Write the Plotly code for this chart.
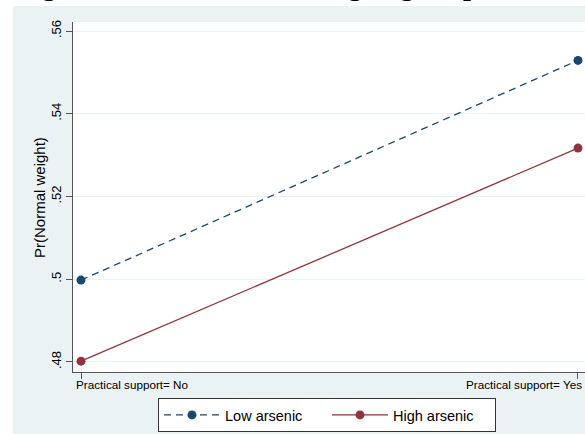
import plotly.graph_objects as go

categories = ["Practical support= No", "Practical support= Yes"]
x_pos = [0, 1]
low_arsenic = [0.4998, 0.5529]
high_arsenic = [0.4802, 0.5317]
y_ticks = [0.48, 0.50, 0.52, 0.54, 0.56]
y_ticklabels = [".48", ".5", ".52", ".54", ".56"]
series_names = ["Low arsenic", "High arsenic"]
y_title = "Pr(Normal weight)"
title_fragments = [("g", 49), ("g", 355), ("g", 407), ("p", 471)]

NAVY = "#1a476f"
MAROON = "#90353b"
BG = "#eaf2f3"
AX = "#555555"

W, H = 585, 434
L, R, T, B = 73, 0, 22, 62
PW, PH = W - L - R, H - T - B

fig = go.Figure()
fig.add_trace(go.Scatter(
    x=x_pos, y=low_arsenic, name=series_names[0], mode="lines+markers",
    line=dict(color=NAVY, width=1.3, dash="7px,5px"),
    marker=dict(color=NAVY, size=9),
))
fig.add_trace(go.Scatter(
    x=x_pos, y=high_arsenic, name=series_names[1], mode="lines+markers",
    line=dict(color=MAROON, width=1.3),
    marker=dict(color=MAROON, size=9),
))

def px_x(p):
    return (p - L) / PW

def px_y(p):
    return (H - B - p) / PH

shapes = [
    dict(type="rect", xref="paper", yref="paper", x0=px_x(-5), x1=px_x(13), y0=px_y(440), y1=px_y(-5),
         fillcolor="white", line=dict(width=0), layer="below"),
    dict(type="rect", xref="paper", yref="paper", x0=px_x(-5), x1=px_x(600), y0=px_y(6), y1=px_y(-5),
         fillcolor="white", line=dict(width=0), layer="below"),
]

annotations = [
    dict(text=y_title, xref="paper", yref="paper", x=px_x(39), y=px_y(198),
         xanchor="center", yanchor="middle", textangle=-90, showarrow=False,
         font=dict(family="Liberation Sans, Arial", size=15, color="#000000")),
    dict(text=categories[0], xref="x", yref="paper", x=x_pos[0], y=px_y(384),
         xanchor="left", yanchor="middle", xshift=-7, showarrow=False,
         font=dict(family="Liberation Sans, Arial", size=11.7, color="#000000")),
    dict(text=categories[1], xref="x", yref="paper", x=x_pos[1], y=px_y(384),
         xanchor="right", yanchor="middle", xshift=6, showarrow=False,
         font=dict(family="Liberation Sans, Arial", size=11.7, color="#000000")),
]
for ch, cx in title_fragments:
    annotations.append(dict(text="<b>" + ch + "</b>", xref="paper", yref="paper",
                            x=px_x(cx), y=px_y(-14.5), xanchor="center", yanchor="middle",
                            showarrow=False,
                            font=dict(family="Liberation Serif, Times New Roman", size=28, color="#000000")))

fig.update_layout(
    width=W, height=H,
    margin=dict(l=L, r=R, t=T, b=B, autoexpand=False),
    paper_bgcolor=BG, plot_bgcolor="white",
    showlegend=True,
    legend=dict(orientation="h", x=px_x(327), y=px_y(398), xanchor="center", yanchor="top",
                bgcolor="white", bordercolor="#333333", borderwidth=1,
                font=dict(family="Liberation Sans, Arial", size=14.5, color="#000000"),
                itemwidth=56, entrywidth=97, entrywidthmode="pixels", tracegroupgap=0),
    shapes=shapes, annotations=annotations,
    xaxis=dict(range=[-0.0161, 1.0141], tickvals=x_pos, showticklabels=False,
               ticks="outside", ticklen=6, tickcolor=AX, showgrid=False, zeroline=False,
               showline=True, linecolor=AX, linewidth=1),
    yaxis=dict(range=[0.47758, 0.56218], tickvals=y_ticks, ticktext=y_ticklabels,
               tickangle=-90, ticks="outside", ticklen=6, tickcolor=AX,
               tickfont=dict(family="Liberation Sans, Arial", size=13, color="#000000"),
               showgrid=True, gridcolor=BG, gridwidth=1, zeroline=False,
               showline=True, linecolor=AX, linewidth=1),
)

fig.write_html("out.html", config={"displayModeBar": False},
               post_script="document.body.style.margin='0';document.body.style.overflow='hidden';")
